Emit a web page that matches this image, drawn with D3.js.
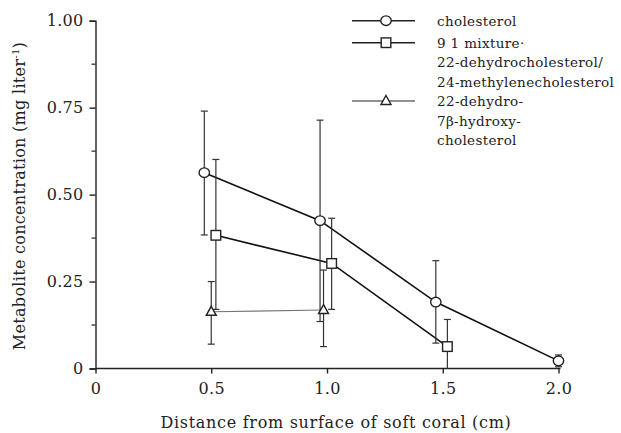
<!DOCTYPE html>
<html>
<head>
<meta charset="utf-8">
<script src="https://cdn.jsdelivr.net/npm/d3@7"></script>
<style>
	body { margin: 0; background: #fff; }
	svg { display: block; }
	text { font-family: 'DejaVu Serif', 'Liberation Serif', serif; fill: #222; }
</style>
</head>
<body>
<svg id="chart"></svg>
<script>
const WIDTH = 621
const HEIGHT = 433

// cholesterol (circles)
const cholX = [0.47, 0.97, 1.47, 2.0]
const cholY = [0.563, 0.425, 0.191, 0.022]
const cholHi = [0.74, 0.714, 0.31, 0.039]
const cholLo = [0.384, 0.135, 0.073, 0.005]

// 9:1 mixture (squares)
const mixX = [0.52, 1.02, 1.52]
const mixY = [0.383, 0.302, 0.063]
const mixHi = [0.601, 0.432, 0.141]
const mixLo = [0.17, 0.17, 0]

// 22-dehydro-7b-hydroxycholesterol (triangles)
const triX = [0.5, 0.985]
const triY = [0.163, 0.168]
const triHi = [0.25, 0.283]
const triLo = [0.07, 0.063]

const xTicks = [0, 0.5, 1.0, 1.5, 2.0]
const yTicks = [0, 0.25, 0.5, 0.75, 1.0]
const yMinorTicks = [0.125, 0.375, 0.625, 0.875]

const legendItems = [
	{symbol: 'circle', lines: ['cholesterol']},
	{symbol: 'square', lines: ['9 1 mixture·', '22-dehydrocholesterol/', '24-methylenecholesterol']},
	{symbol: 'triangle', lines: ['22-dehydro-', '7β-hydroxy-', 'cholesterol']}
]

const svg = d3.select('#chart')
	.attr('width', WIDTH)
	.attr('height', HEIGHT)

const x = d3.scaleLinear().domain([0, 2]).range([95.5, 558.5])
const y = d3.scaleLinear().domain([0, 1]).range([368.5, 20.7])

const zip = (xs, ys, his, los) => xs.map((v, i) => ({x: v, y: ys[i], hi: his[i], lo: los[i]}))
const series = [
	{symbol: 'circle', points: zip(cholX, cholY, cholHi, cholLo), stroke: '#111', width: 1.6},
	{symbol: 'square', points: zip(mixX, mixY, mixHi, mixLo), stroke: '#111', width: 1.6},
	{symbol: 'triangle', points: zip(triX, triY, triHi, triLo), stroke: '#777', width: 1.1}
]

// axes
const yAxis = svg.append('g')
	.attr('transform', `translate(${x(0)},0)`)
	.call(d3.axisLeft(y).tickValues(yTicks).tickSize(6).tickPadding(6)
		.tickFormat(d => d === 0 ? '0' : d3.format('.2f')(d)))
yAxis.append('g').selectAll('line')
	.data(yMinorTicks)
	.join('line')
	.attr('x1', -4).attr('x2', 0)
	.attr('y1', d => y(d)).attr('y2', d => y(d))
	.attr('stroke', '#222').attr('stroke-width', 1.2)

const xAxis = svg.append('g')
	.attr('transform', `translate(0,${y(0)})`)
	.call(d3.axisBottom(x).tickValues(xTicks).tickSize(5).tickPadding(9)
		.tickFormat(d => d === 0 ? '0' : d3.format('.1f')(d)))
xAxis.select('.domain').attr('d', `M${x(0)},0H${x(2) + 2}`)

svg.selectAll('.domain, .tick line').attr('stroke', '#222').attr('stroke-width', 1.4)
svg.selectAll('.tick text').attr('font-size', 16).attr('letter-spacing', 0.3).attr('fill', '#333')

svg.append('text')
	.attr('x', 336).attr('y', 428)
	.attr('text-anchor', 'middle')
	.attr('font-size', 16)
	.attr('letter-spacing', 0.7)
	.text('Distance from surface of soft coral (cm)')

const yTitle = svg.append('text')
	.attr('transform', 'translate(25,196) rotate(-90)')
	.attr('text-anchor', 'middle')
	.attr('font-size', 16)
	.attr('letter-spacing', 0.3)
yTitle.append('tspan').text('Metabolite concentration (mg liter')
yTitle.append('tspan').attr('font-size', 10).attr('dy', -6).text('-1')
yTitle.append('tspan').attr('dy', 6).text(')')

// lines
const line = d3.line().x(d => x(d.x)).y(d => y(d.y))
svg.append('g').selectAll('path')
	.data(series)
	.join('path')
	.attr('d', s => line(s.points))
	.attr('fill', 'none')
	.attr('stroke', s => s.stroke)
	.attr('stroke-width', s => s.width)

// error bars
const capW = 3.5
const bars = svg.append('g')
series.forEach(s => {
	const g = bars.append('g').selectAll('g')
		.data(s.points)
		.join('g')
		.attr('stroke', '#333')
		.attr('stroke-width', 1.2)
	g.append('line')
		.attr('x1', d => x(d.x)).attr('x2', d => x(d.x))
		.attr('y1', d => y(d.hi)).attr('y2', d => y(d.lo))
	g.append('line')
		.attr('x1', d => x(d.x) - capW).attr('x2', d => x(d.x) + capW)
		.attr('y1', d => y(d.hi)).attr('y2', d => y(d.hi))
	g.filter(d => d.lo > 0).append('line')
		.attr('x1', d => x(d.x) - capW).attr('x2', d => x(d.x) + capW)
		.attr('y1', d => y(d.lo)).attr('y2', d => y(d.lo))
})

// markers
function drawMarker (sel, symbol) {
	if (symbol === 'circle') {
		sel.append('ellipse').attr('rx', 5.2).attr('ry', 4.8)
	} else if (symbol === 'square') {
		sel.append('rect').attr('x', -4.8).attr('y', -4.8).attr('width', 9.6).attr('height', 9.6)
	} else {
		sel.append('path').attr('d', 'M0,-5.5L5,3.5L-5,3.5Z')
	}
	sel.selectAll('ellipse, rect, path')
		.attr('fill', '#fff')
		.attr('stroke', '#222')
		.attr('stroke-width', 1.4)
}

series.forEach(s => {
	svg.append('g').selectAll('g')
		.data(s.points)
		.join('g')
		.attr('transform', d => `translate(${x(d.x)},${y(d.y)})`)
		.each(function () { drawMarker(d3.select(this), s.symbol) })
})

// legend
const legendTop = [20.7, 42.7, 101]
const legend = svg.append('g')
legendItems.forEach((item, i) => {
	const g = legend.append('g').attr('transform', `translate(0,${legendTop[i]})`)
	g.append('line')
		.attr('x1', 352).attr('x2', 415)
		.attr('stroke', '#222').attr('stroke-width', item.symbol === 'triangle' ? 1.1 : 1.4)
	const m = g.append('g').attr('transform', 'translate(386,0)')
	drawMarker(m, item.symbol)
	g.selectAll('text.lbl')
		.data(item.lines)
		.join('text')
		.attr('class', 'lbl')
		.attr('x', 437)
		.attr('y', (d, j) => 5 + j * 19.5)
		.attr('font-size', 13.5)
		.attr('letter-spacing', 0.35)
		.attr('fill', '#333')
		.text(d => d)
})
</script>
</body>
</html>
